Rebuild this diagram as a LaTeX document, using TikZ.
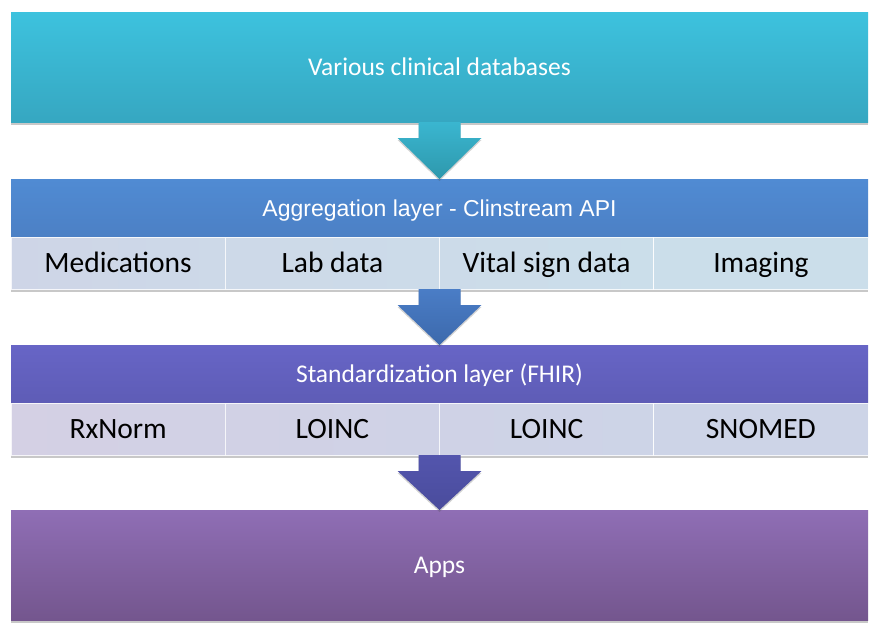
\documentclass[tikz,border=0pt]{standalone}
\usepackage{fontspec}
\setmainfont{Carlito}
\newfontfamily\arialf{Liberation Sans}
\usetikzlibrary{calc,shadows}
\definecolor{dbT}{HTML}{3DC2DE}
\definecolor{dbB}{HTML}{36A7C1}
\definecolor{agT}{HTML}{508BD3}
\definecolor{agB}{HTML}{4C80C5}
\definecolor{stT}{HTML}{6765C6}
\definecolor{stB}{HTML}{5E5CB6}
\definecolor{apT}{HTML}{8F6EB5}
\definecolor{apB}{HTML}{74568E}
\definecolor{r1a}{HTML}{CED5E7}
\definecolor{r1b}{HTML}{CDD9E8}
\definecolor{r1c}{HTML}{CCDBE9}
\definecolor{r1d}{HTML}{CBDEEA}
\definecolor{r2a}{HTML}{D4D0E4}
\definecolor{r2b}{HTML}{D1D1E5}
\definecolor{r2c}{HTML}{CFD2E6}
\definecolor{r2d}{HTML}{CDD4E7}
\definecolor{a1T}{HTML}{3AB6D0}
\definecolor{a1B}{HTML}{2E98AC}
\definecolor{a2T}{HTML}{4A7DC6}
\definecolor{a2B}{HTML}{3C69AC}
\definecolor{a3T}{HTML}{5355AD}
\definecolor{a3B}{HTML}{4A4C9C}
\tikzset{
  boxshadow/.style={drop shadow={shadow xshift=0pt, shadow yshift=-2.5pt, opacity=0.3, fill=black!70}},
  layerbox/.style={rectangle, draw=none, inner sep=0pt, outer sep=0pt, anchor=north west,
    minimum width=857pt, text=white, font=\fontsize{25.5}{30}\selectfont,
    text height=16.6pt, text depth=0pt},
  cellbox/.style={rectangle, draw=white, draw opacity=0.8, line width=0.7pt, inner sep=0pt, outer sep=0pt, anchor=north west,
    minimum width=214.25pt, minimum height=52pt, text=black, font=\fontsize{29.5}{34}\selectfont,
    text height=19.2pt, text depth=0pt},
  arrowshape/.style={draw=none, drop shadow={shadow xshift=0pt, shadow yshift=-2pt, opacity=0.25, fill=black!70}}
}
\begin{document}
\begin{tikzpicture}[x=1pt,y=-1pt]
\fill[white] (0,0) rectangle (884,637);
\useasboundingbox (0,0) rectangle (884,637);
% top layer
\node[layerbox, boxshadow, minimum height=110pt, top color=dbT, bottom color=dbB] (db) at (11,12) {Various clinical databases};
% aggregation
\node[layerbox, boxshadow, minimum height=110pt, fill=white] (aggall) at (11,179) {};
\node[layerbox, minimum height=58pt, top color=agT, bottom color=agB, font=\arialf\fontsize{23}{27}\selectfont, text height=16.5pt] (agg) at (11,179) {Aggregation layer - Clinstream API};
\node[cellbox, left color=r1a, right color=r1b] (c11) at (11,237) {Medications};
\node[cellbox, left color=r1b, right color=r1c] (c12) at (225.25,237) {Lab data};
\node[cellbox, left color=r1c, right color=r1d!99!r1c] (c13) at (439.5,237) {Vital sign data};
\node[cellbox, left color=r1d!99!r1c, right color=r1d] (c14) at (653.75,237) {Imaging};
% standardization
\node[layerbox, boxshadow, minimum height=110pt, fill=white] (stdall) at (11,345) {};
\node[layerbox, minimum height=58pt, top color=stT, bottom color=stB] (std) at (11,345) {Standardization layer (FHIR)};
\node[cellbox, left color=r2a, right color=r2b] (c21) at (11,403) {RxNorm};
\node[cellbox, left color=r2b, right color=r2c] (c22) at (225.25,403) {LOINC};
\node[cellbox, left color=r2c, right color=r2d!99!r2c] (c23) at (439.5,403) {LOINC};
\node[cellbox, left color=r2d!99!r2c, right color=r2d] (c24) at (653.75,403) {SNOMED};
% apps
\node[layerbox, boxshadow, minimum height=110pt, top color=apT, bottom color=apB] (apps) at (11,510) {Apps};
% arrows
\path[arrowshape, top color=a1T, bottom color=a1B]
  ($(db.south)+(-21,0)$) -- ($(db.south)+(21,0)$) -- ($(db.south)+(21,16)$) -- ($(db.south)+(42,16)$)
  -- (agg.north) -- ($(db.south)+(-42,16)$) -- ($(db.south)+(-21,16)$) -- cycle;
\path[arrowshape, top color=a2T, bottom color=a2B]
  ($(aggall.south)+(-21,0)$) -- ($(aggall.south)+(21,0)$) -- ($(aggall.south)+(21,16)$) -- ($(aggall.south)+(42,16)$)
  -- (std.north) -- ($(aggall.south)+(-42,16)$) -- ($(aggall.south)+(-21,16)$) -- cycle;
\path[arrowshape, top color=a3T, bottom color=a3B]
  ($(stdall.south)+(-21,0)$) -- ($(stdall.south)+(21,0)$) -- ($(stdall.south)+(21,16)$) -- ($(stdall.south)+(42,16)$)
  -- (apps.north) -- ($(stdall.south)+(-42,16)$) -- ($(stdall.south)+(-21,16)$) -- cycle;
\end{tikzpicture}
\end{document}
